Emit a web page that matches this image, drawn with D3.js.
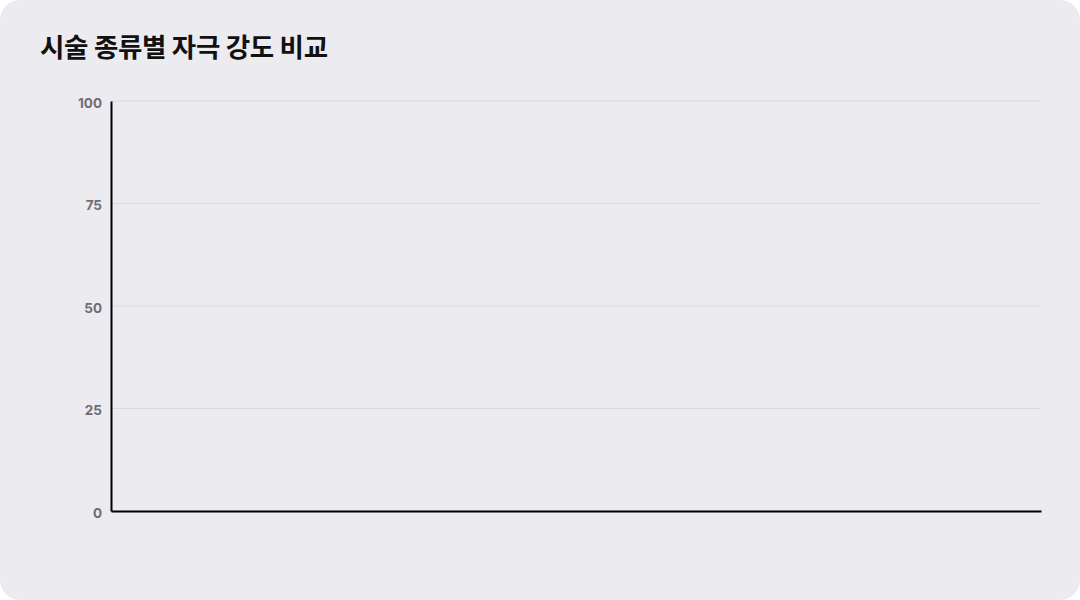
<!DOCTYPE html>
<html>
<head>
<meta charset="utf-8">
<script src="https://cdn.jsdelivr.net/npm/d3@7"></script>
<style>
  html, body { margin: 0; padding: 0; background: #ffffff; }
  .card {
    width: 1080px; height: 600px; background: #ecebf0; border-radius: 20px;
    position: relative; overflow: hidden;
  }
  .title {
    position: absolute; left: 40px; top: 26px; margin: 0;
    font-family: "Noto Sans CJK KR", "Noto Sans", sans-serif;
    font-size: 26.5px; font-weight: 700; color: #111; letter-spacing: -0.3px;
  }
  svg { position: absolute; left: 0; top: 0; }
  .tick text { font-family: Inter, "Noto Sans", sans-serif; font-size: 13.5px; font-weight: 700; fill: #6e6e73; }
</style>
</head>
<body>
<div class="card">
  <h1 class="title">시술 종류별 자극 강도 비교</h1>
  <svg id="chart" width="1080" height="600"></svg>
</div>
<script>
// 데이터 (그림에 표시된 막대 없음)
const categories = []
const intensity = []
const yTicks = [0, 25, 50, 75, 100]

const margin = { top: 101, right: 39, bottom: 89, left: 111 }
const W = 1080, H = 600
const innerW = W - margin.left - margin.right
const innerH = H - margin.top - margin.bottom

const svg = d3.select('#chart')
const g = svg.append('g').attr('transform', `translate(${margin.left},${margin.top})`)

const x = d3.scaleBand().domain(categories).range([0, innerW]).padding(0.3)
const y = d3.scaleLinear().domain([0, 100]).range([innerH, 0])

// 격자선
g.append('g')
  .selectAll('line')
  .data(yTicks.filter(d => d > 0))
  .join('line')
  .attr('x1', 0)
  .attr('x2', innerW)
  .attr('y1', d => y(d))
  .attr('y2', d => y(d))
  .attr('stroke', '#d9d8de')
  .attr('stroke-width', 1)

// y 축
const yAxisG = g.append('g')
  .call(d3.axisLeft(y).tickValues(yTicks).tickSize(0).tickPadding(9))
yAxisG.select('.domain').attr('stroke', '#000').attr('stroke-width', 2)
yAxisG.selectAll('.tick text').attr('dy', '0.45em')

// 막대
g.append('g')
  .selectAll('rect')
  .data(categories.map((c, i) => ({ c, v: intensity[i] })))
  .join('rect')
  .attr('x', d => x(d.c))
  .attr('y', d => y(d.v))
  .attr('width', x.bandwidth())
  .attr('height', d => innerH - y(d.v))
  .attr('fill', '#5b8def')

// x 축
const xAxisG = g.append('g')
  .attr('transform', `translate(0,${innerH})`)
  .call(d3.axisBottom(x).tickSize(0))
xAxisG.select('.domain').attr('stroke', '#000').attr('stroke-width', 2)
</script>
</body>
</html>
